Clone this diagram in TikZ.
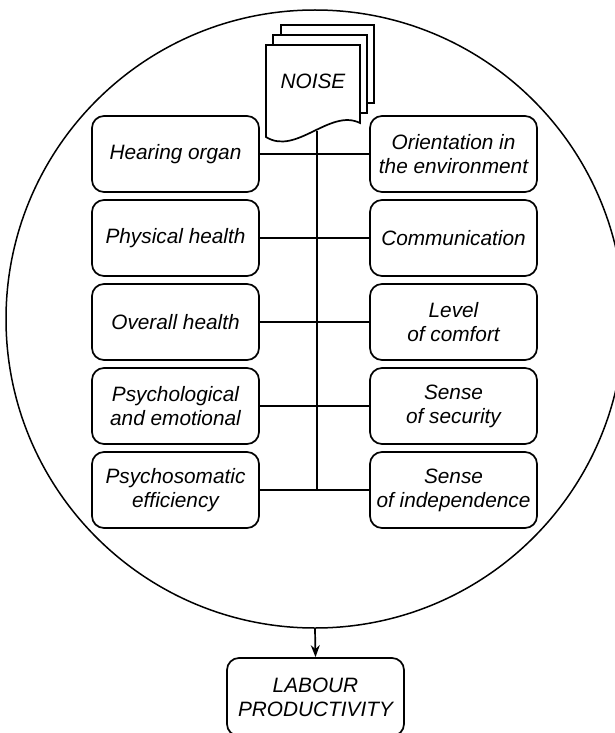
\documentclass[tikz,border=0pt]{standalone}
\usepackage{fontspec}
\setmainfont{Liberation Sans}
\usetikzlibrary{positioning, arrows.meta}

\begin{document}
\begin{tikzpicture}[x=1pt, y=1pt, node distance=84pt, line width=1.7pt]
    \tikzstyle{factor}=[draw, rectangle, rounded corners=12pt, minimum width=167pt, minimum height=76pt, inner sep=2pt, align=center, font=\fontsize{20.8}{24}\selectfont\itshape];
    \tikzstyle{page}=[draw, fill=white];
    \useasboundingbox (0,0) rectangle (615,-733);

    \node[draw, circle, line width=1.5pt, minimum size=618pt, inner sep=0pt] (field) at (315,-319) {};

    % stacked pages of the noise document
    \draw[page] (281,-25) rectangle (374,-103);
    \draw[page] (273,-35) rectangle (367,-113);
    \draw[page] (266,-137) -- (266,-45) -- (360,-45) -- (360,-123)
        .. controls (330,-108) and (296,-156) .. (266,-137) -- cycle;
    \node[font=\fontsize{20.8}{24}\selectfont\itshape] (noise) at (313,-81) {NOISE};
    \coordinate (noisefoot) at (317,-131);
    \coordinate (trunkend) at (317,-489);

    \node[factor] (hearing) at (175.5,-154) {Hearing organ};
    \node[factor, below of=hearing] (physical) {Physical health};
    \node[factor, below of=physical] (overall) {Overall health};
    \node[factor, below of=overall] (psych) {Psychological\\and emotional};
    \node[factor, below of=psych] (somatic) {Psychosomatic\\efficiency};

    \node[factor] (orient) at (453.5,-154) {Orientation in\\the environment};
    \node[factor, below of=orient] (commun) {Communication};
    \node[factor, below of=commun] (comfort) {Level\\of comfort};
    \node[factor, below of=comfort] (security) {Sense\\of security};
    \node[factor, below of=security] (independ) {Sense\\of independence};

    \draw (noisefoot) -- (trunkend);
    \path
    (hearing) edge (orient)
    (physical) edge (commun)
    (overall) edge (comfort)
    (psych) edge (security)
    (somatic) edge (independ);

    \node[factor, minimum width=177pt, minimum height=78pt] (labour) at (315.5,-697) {LABOUR\\PRODUCTIVITY};
    \draw[-{Stealth[length=12pt, width=9pt]}] (field.south) -- (labour.north);
\end{tikzpicture}
\end{document}
